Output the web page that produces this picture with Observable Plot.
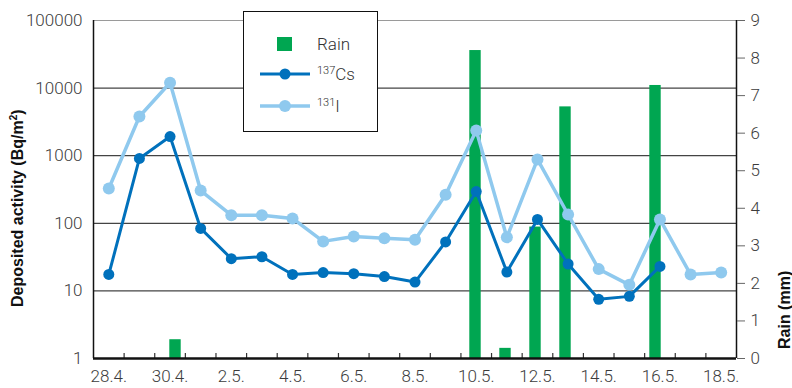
<!DOCTYPE html>
<html><head><meta charset="utf-8">
<script src="https://cdn.jsdelivr.net/npm/d3@7"></script>
<script src="https://cdn.jsdelivr.net/npm/@observablehq/plot@0.6"></script>
<style>
body{margin:0;background:#fff;}
#chart{position:relative;width:792px;height:388px;font-family:Roboto,sans-serif;overflow:hidden;}
#chart svg{position:absolute;left:0;top:0;}
.ytitle{position:absolute;font-family:"Liberation Sans","Arial",sans-serif;font-weight:bold;font-size:16px;color:#111;white-space:nowrap;transform-origin:0 0;}
#legend{position:absolute;left:243px;top:11px;width:135px;height:121px;background:#fff;border:1px solid #111;box-sizing:border-box;font-family:Roboto,sans-serif;font-size:17px;color:#333;font-weight:300;}
#legend .row{position:absolute;left:0;width:100%;height:20px;}
#legend .lab{position:absolute;left:73px;top:0;line-height:20px;white-space:nowrap;}
#legend sup{font-size:11px;vertical-align:0;position:relative;top:-6px;}
</style></head><body><div id="chart"></div>
<script>
const days = ["28.4.","29.4.","30.4.","1.5.","2.5.","3.5.","4.5.","5.5.","6.5.","7.5.","8.5.","9.5.","10.5.","11.5.","12.5.","13.5.","14.5.","15.5.","16.5.","17.5.","18.5."];
const cs137 = [17.5, 910, 1920, 84, 30, 32, 17.5, 18.7, 18, 16.3, 13.5, 53, 295, 19, 114, 25, 7.5, 8.3, 23, null, null];
const i131 = [327, 3800, 12000, 305, 132, 132, 118, 54, 64, 60, 57, 265, 2350, 62, 880, 135, 21, 12.3, 114, 17.5, 18.7];
const rainDays = ["30.4.","10.5.","11.5.","12.5.","13.5.","16.5."];
const rainMm = [0.5, 8.2, 0.27, 3.5, 6.7, 7.27];
const activityTicks = [1, 10, 100, 1000, 10000, 100000];
const rainTicks = [0,1,2,3,4,5,6,7,8,9];
const labelDays = d3.range(0, days.length, 2);

const colCs = "#0071bc", colI = "#8fc9ee", colRain = "#00a651";
const W = 792, H = 388;
const common = {width: W, height: H, marginTop: 20, marginRight: 56, marginBottom: 30, marginLeft: 93,
  style: {background: "transparent", fontFamily: "Roboto, sans-serif", fontSize: "17px", color: "#3c3c3c", overflow: "visible"}};
const xLin = {domain: [-0.5, days.length - 0.5], axis: null};
const yLog = {type: "log", domain: [1, 100000], axis: null};

const csData = cs137.map((v, i) => ({i, v})).filter(d => d.v != null);
const iData = i131.map((v, i) => ({i, v})).filter(d => d.v != null);
const rain = rainDays.map((d, k) => ({day: d, mm: rainMm[k]}));
const boundaries = d3.range(0.5, days.length - 1, 1);

const layerA = Plot.plot({...common, x: xLin, y: yLog, marks: [
  Plot.ruleY(activityTicks.slice(1, -1), {stroke: "#444", strokeWidth: 1.2}),
  Plot.ruleY([100000], {stroke: "#9a9a9a", strokeWidth: 1.2}),
  Plot.axisY({ticks: activityTicks, tickFormat: d => String(d), tickSize: 0, tickPadding: 11, fontWeight: 300, label: null}),
  Plot.axisX({ticks: labelDays, tickFormat: i => days[i], tickSize: 0, tickPadding: 11, fontWeight: 300, label: null}),
  Plot.ruleX([-0.5, days.length - 0.5], {stroke: "#111", strokeWidth: 1.5})
]});

const layerB = Plot.plot({...common, x: {type: "band", domain: days, padding: 0, axis: null}, y: {domain: [0, 9], axis: null}, marks: [
  Plot.barY(rain, {x: "day", y: "mm", fill: colRain, insetLeft: 9.3, insetRight: 9.3}),
  Plot.axisY({anchor: "right", ticks: rainTicks, tickSize: 8, tickPadding: 6, stroke: "#666", fontWeight: 300, label: null})
]});

const layerC = Plot.plot({...common, x: xLin, y: yLog, marks: [
  Plot.line(iData, {x: "i", y: "v", stroke: colI, strokeWidth: 3.5}),
  Plot.dot(iData, {x: "i", y: "v", r: 6, fill: colI}),
  Plot.line(csData, {x: "i", y: "v", stroke: colCs, strokeWidth: 3}),
  Plot.dot(csData, {x: "i", y: "v", r: 5.5, fill: colCs}),
  Plot.ruleX(boundaries, {stroke: "#333", strokeWidth: 1.2, insetTop: 333}),
  Plot.ruleY([1], {stroke: "#111", strokeWidth: 2.5})
]});

const chart = document.getElementById("chart");
chart.append(layerA, layerB, layerC);

function title(text, x, y) {
  const d = document.createElement("div");
  d.className = "ytitle";
  d.innerHTML = text;
  chart.append(d);
  const w = d.offsetWidth, h = d.offsetHeight;
  d.style.left = (x - h / 2) + "px";
  d.style.top = (y + w / 2) + "px";
  d.style.transform = "rotate(-90deg)";
}
title("Deposited activity (Bq/m<sup style='font-size:10px'>2</sup>)", 17, 208);
title("Rain (mm)", 785, 310);

const legend = document.createElement("div");
legend.id = "legend";
legend.innerHTML = `
 <div class="row" style="top:22px"><div style="position:absolute;left:33px;top:3px;width:15px;height:14px;background:${colRain}"></div><div class="lab">Rain</div></div>
 <div class="row" style="top:52px"><svg width="60" height="20" style="position:absolute;left:16px;top:0"><line x1="0" x2="50" y1="10" y2="10" stroke="${colCs}" stroke-width="3"/><circle cx="25" cy="10" r="5.5" fill="${colCs}"/></svg><div class="lab"><sup>137</sup>Cs</div></div>
 <div class="row" style="top:84px"><svg width="60" height="20" style="position:absolute;left:16px;top:0"><line x1="0" x2="50" y1="10" y2="10" stroke="${colI}" stroke-width="3.5"/><circle cx="25" cy="10" r="6" fill="${colI}"/></svg><div class="lab"><sup>131</sup>I</div></div>`;
chart.append(legend);
</script></body></html>
